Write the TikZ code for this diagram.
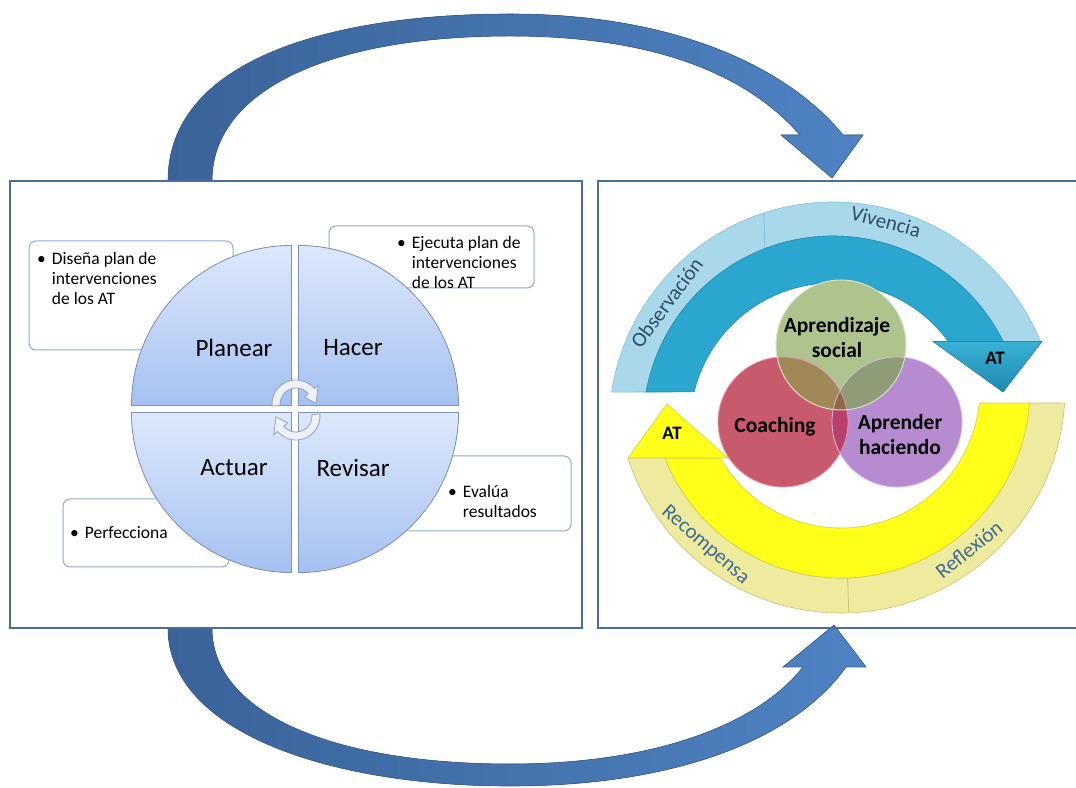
\documentclass[tikz,border=0pt]{standalone}
\usepackage{fontspec}
\setmainfont{Carlito}
\usetikzlibrary{positioning,calc}

\definecolor{panelline}{HTML}{4A6E96}
\definecolor{bigarrowA}{HTML}{3A6399}
\definecolor{bigarrowB}{HTML}{4F83C3}
\definecolor{bigarrowline}{HTML}{39608F}
\definecolor{quadtop}{HTML}{DDE8FB}
\definecolor{quadbot}{HTML}{A5C1F1}
\definecolor{quadline}{HTML}{7F93B4}
\definecolor{boxline}{HTML}{8FAAD0}
\definecolor{turnfill}{HTML}{EEF2F8}
\definecolor{turnline}{HTML}{97A3B6}
\definecolor{cyanside}{HTML}{A9D8EA}
\definecolor{cyansideline}{HTML}{86C0D8}
\definecolor{cyanface}{HTML}{2BA7CF}
\definecolor{cyanfaceline}{HTML}{1F8BB1}
\definecolor{cyanheadA}{HTML}{3AB0D6}
\definecolor{cyanheadB}{HTML}{1F8AB0}
\definecolor{yelside}{HTML}{EFEB9E}
\definecolor{yelsideline}{HTML}{C8C273}
\definecolor{yelface}{HTML}{FFFF1A}
\definecolor{yelfaceline}{HTML}{D2CD4C}
\definecolor{vgreen}{HTML}{AFC48D}
\definecolor{vred}{HTML}{C95A6E}
\definecolor{vpurple}{HTML}{B68BD0}
\definecolor{vgr}{HTML}{A08858}
\definecolor{vgp}{HTML}{8E9C78}
\definecolor{vrp}{HTML}{B8406C}
\definecolor{vall}{HTML}{8C6A48}
\definecolor{arclabel}{HTML}{2E4C6B}
\definecolor{arclabelB}{HTML}{3D6A9A}

\begin{document}
\begin{tikzpicture}[
    x=1pt, y=1pt,
    every node/.style={font=\fontsize{17.5}{20}\selectfont, inner sep=0pt},
    panel/.style={draw=panelline, line width=1.6pt},
    bigarrow/.style={left color=bigarrowA, right color=bigarrowB, draw=bigarrowline, line width=0.6pt},
    quad/.style={top color=quadtop, bottom color=quadbot, draw=quadline, line width=0.8pt},
    quadlabel/.style={font=\fontsize{25}{30}\selectfont},
    notebox/.style={draw=boxline, line width=1pt, fill=white, rounded corners=7pt},
    notetext/.style={anchor=north west, align=left},
    turn/.style={fill=turnfill, draw=turnline, line width=0.8pt},
    vennlabel/.style={font=\bfseries\fontsize{21.5}{25}\selectfont, align=center},
    arctext/.style={font=\fontsize{21}{24}\selectfont},
    headlabel/.style={font=\bfseries\fontsize{19}{22}\selectfont}
]

\useasboundingbox (0,0) rectangle (1076,787);
\fill[white] (0,0) rectangle (1076,787);

% === Big connecting arrows ===
\filldraw[bigarrow] (168,606) .. controls (168,727) and (330,773) .. (510,773)
    .. controls (680,773) and (790,717) .. (843,652) -- (863,652) -- (832,609) -- (781,652) -- (800,652)
    .. controls (745,715) and (650,751) .. (510,751) .. controls (330,751) and (212,697) .. (212,606) -- cycle;
\filldraw[bigarrow] (168,159) .. controls (168,55) and (330,1) .. (510,1)
    .. controls (690,1) and (800,55) .. (846,120) -- (866,120) -- (834,162) -- (783,120) -- (803,120)
    .. controls (760,65) and (660,23) .. (510,23) .. controls (330,23) and (212,75) .. (212,159) -- cycle;

% === Panels ===
\draw[panel] (10,159) rectangle (582,606);
\draw[panel] (1076,606) -- (598,606) -- (598,159) -- (1076,159);

% === Left panel: notes ===
\draw[notebox] (29,437) rectangle (233,546);
\node[notetext] (disena) at (37,537) {\begin{tabular}{@{}l@{\hspace{6pt}}l@{}}\textbullet & Diseña plan de\\ & intervenciones\\ & de los AT\end{tabular}};

\draw[notebox] (329,499) rectangle (534,561);
\node[notetext] (ejecuta) at (397,553) {\begin{tabular}{@{}l@{\hspace{6pt}}l@{}}\textbullet & Ejecuta plan de\\ & intervenciones\\ & de los AT\end{tabular}};

\draw[notebox] (398,256) rectangle (571,331);
\node[notetext] (evalua) at (448,304) {\begin{tabular}{@{}l@{\hspace{6pt}}l@{}}\textbullet & Evalúa\\ & resultados\end{tabular}};

\draw[notebox] (63,220) rectangle (229,288);
\node[notetext] (perfecciona) at (70,263) {\begin{tabular}{@{}l@{\hspace{6pt}}l@{}}\textbullet & Perfecciona\end{tabular}};

% === Left panel: cycle ===
\filldraw[quad] (291.5,381.5) -- ++(-160,0) arc[start angle=180, end angle=90, radius=160] -- cycle;
\filldraw[quad] (298.5,381.5) -- ++(0,160) arc[start angle=90, end angle=0, radius=160] -- cycle;
\filldraw[quad] (291.5,374.5) -- ++(-160,0) arc[start angle=180, end angle=270, radius=160] -- cycle;
\filldraw[quad] (298.5,374.5) -- ++(0,-160) arc[start angle=270, end angle=360, radius=160] -- cycle;

\node[quadlabel] (planear) at (234,439) {Planear};
\node[quadlabel] (hacer) at (353,439) {Hacer};
\node[quadlabel] (actuar) at (234,319) {Actuar};
\node[quadlabel] (revisar) at (353,319) {Revisar};

% turning arrows in the middle
\begin{scope}[shift={(296,383)}]
\filldraw[turn] (185:24) arc[start angle=185, end angle=40, radius=24] -- (40:29) -- (2:20) -- (40:11)
    -- (40:16) arc[start angle=40, end angle=185, radius=16] -- cycle;
\end{scope}
\begin{scope}[shift={(296,371)}, rotate=180]
\filldraw[turn] (185:24) arc[start angle=185, end angle=40, radius=24] -- (40:29) -- (2:20) -- (40:11)
    -- (40:16) arc[start angle=40, end angle=185, radius=16] -- cycle;
\end{scope}

% === Right panel: cyan arrow (top) ===
\begin{scope}[shift={(833,361)}]
\filldraw[fill=cyanside, draw=cyansideline, line width=0.6pt] (171.3:224) arc[start angle=171.3, end angle=22.2, radius=224]
    -- (26.4:190) arc[start angle=26.4, end angle=169.7, radius=190] -- cycle;
\draw[cyansideline, line width=0.8pt] (111:190) -- (108:224);
\filldraw[fill=cyanface, draw=cyanfaceline, line width=0.6pt] (169.7:190) arc[start angle=169.7, end angle=26.4, radius=190]
    -- (36.2:143) arc[start angle=36.2, end angle=166.2, radius=143] -- cycle;
\node[arctext, text=arclabel, rotate=53.5] (observacion) at (143.5:207) {Observación};
\node[arctext, text=arclabel, rotate=-14.5] (vivencia) at (75.5:211) {Vivencia};
\end{scope}
\filldraw[top color=cyanheadA, bottom color=cyanheadB, draw=cyanfaceline, line width=0.6pt]
    (933,445.5) -- (1042,445.5) -- (1003,395) -- cycle;
\node[headlabel] (atcyan) at (995,429) {AT};

% === Right panel: yellow arrow (bottom) ===
\begin{scope}[shift={(841,398)}]
\filldraw[fill=yelside, draw=yelsideline, line width=0.6pt] (-3.6:224) arc[start angle=-3.6, end angle=-162.1, radius=224]
    -- (-158.6:189) arc[start angle=-158.6, end angle=-4.25, radius=189] -- cycle;
\draw[yelsideline, line width=0.8pt] (-88:189) -- (-88:224);
\filldraw[fill=yelface, draw=yelfaceline, line width=0.6pt] (-4.25:189) arc[start angle=-4.25, end angle=-158.6, radius=189]
    -- (-150.2:139) arc[start angle=-150.2, end angle=-5.8, radius=139] -- cycle;
\node[arctext, text=arclabelB, rotate=-41] (recompensa) at (229:207) {Recompensa};
\node[arctext, text=arclabelB, rotate=38.6] (reflexion) at (-51.4:205) {Reflexión};
\end{scope}
\filldraw[fill=yelface, draw=yelfaceline, line width=0.6pt] (628,329) -- (728,329) -- (667,383) -- cycle;
\node[headlabel] (atyel) at (672,354) {AT};

% === Right panel: Venn ===
\coordinate (gc) at (841,442);
\coordinate (rc) at (783,365);
\coordinate (pc) at (897,365);
\fill[vpurple] (pc) circle[radius=65];
\fill[vred] (rc) circle[radius=65];
\fill[vgreen] (gc) circle[radius=65];
\begin{scope}
\clip (gc) circle[radius=65];
\fill[vgr] (rc) circle[radius=65];
\fill[vgp] (pc) circle[radius=65];
\end{scope}
\begin{scope}
\clip (rc) circle[radius=65];
\fill[vrp] (pc) circle[radius=65];
\clip (gc) circle[radius=65];
\fill[vall] (pc) circle[radius=65];
\end{scope}
\draw[vpurple!60!white, line width=0.8pt] (pc) circle[radius=65];
\draw[vred!60!white, line width=0.8pt] (rc) circle[radius=65];
\draw[vgreen!50!white, line width=1pt] (gc) circle[radius=65];

\node[vennlabel] (social) at (837,449) {Aprendizaje\\social};
\node[vennlabel] (coaching) at (775,360) {Coaching};
\node[vennlabel] (haciendo) at (900,352) {Aprender\\haciendo};

\end{tikzpicture}
\end{document}
